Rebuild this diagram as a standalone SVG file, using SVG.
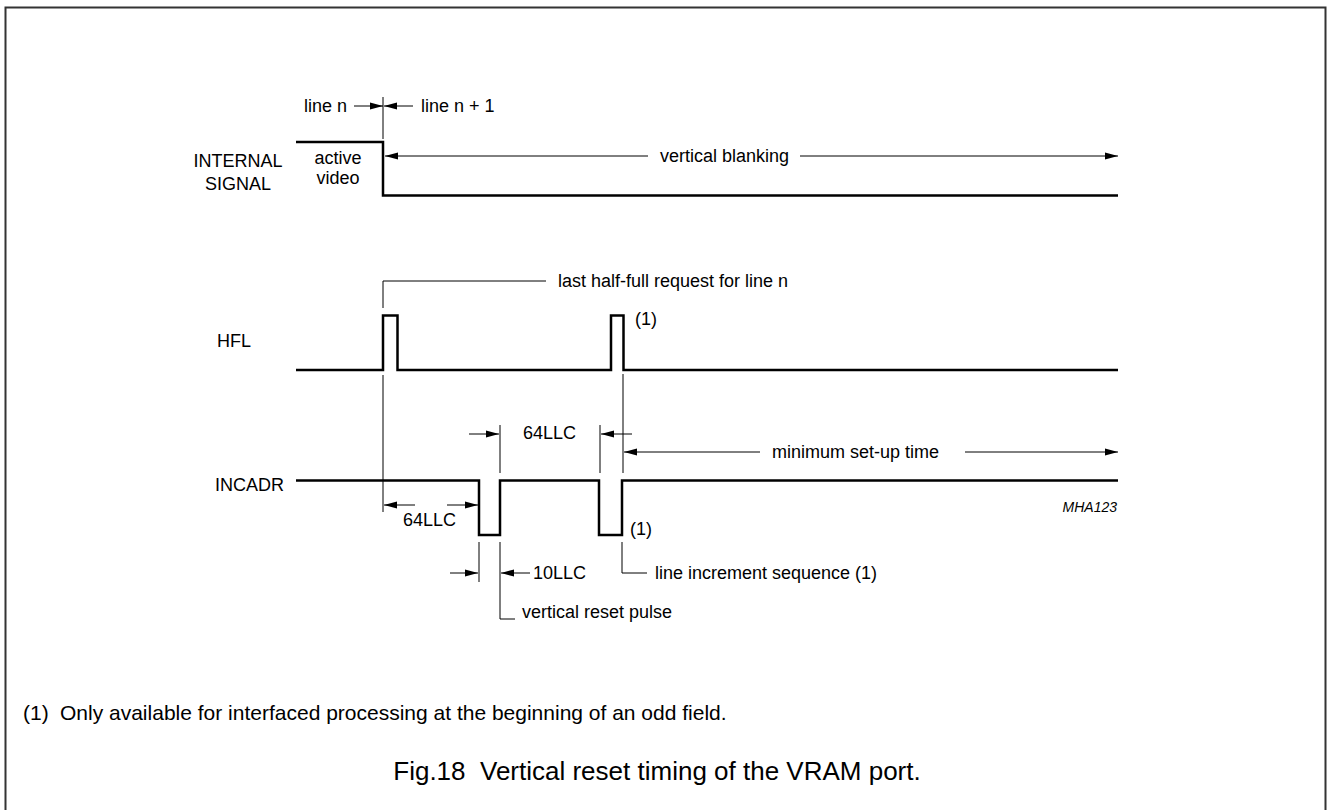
<svg xmlns="http://www.w3.org/2000/svg" width="1327" height="810" viewBox="0 0 1327 810">
<style>
text{font-family:"Liberation Sans",Arial,sans-serif;font-size:18px;fill:#000}
.wave{fill:none;stroke:#000;stroke-width:2.5;stroke-linejoin:miter}
.thin{fill:none;stroke:#000;stroke-width:1}
.arr{fill:none;stroke:#000;stroke-width:1;marker-end:url(#ah)}
.small{font-size:14px;font-style:italic}
.foot{font-size:21px}
.cap{font-size:26px}
</style>
<defs>
<marker id="ah" markerWidth="13" markerHeight="8" refX="13" refY="4" orient="auto" markerUnits="userSpaceOnUse"><path d="M0,0.5 L13,4 L0,7.5 z" fill="#000"/></marker>
</defs>
<rect width="1327" height="810" fill="#fff"/>
<path d="M5.5,830 V7.5 H1325.5 V830" fill="none" stroke="#333" stroke-width="2"/>

<g id="internal-signal">
<text x="238" y="167" text-anchor="middle">INTERNAL</text>
<text x="238" y="190" text-anchor="middle">SIGNAL</text>
<path class="wave" d="M296,142 H383 V195.5 H1118"/>
<text x="338" y="164" text-anchor="middle">active</text>
<text x="338" y="184" text-anchor="middle">video</text>
<text x="660" y="162">vertical blanking</text>
</g>

<g id="hfl">
<text x="217" y="347">HFL</text>
<path class="wave" d="M296,370 H383 V315.5 H397.5 V370 H611 V315.5 H623.5 V370 H1118"/>
<text x="558" y="287">last half-full request for line n</text>
<text x="635" y="325">(1)</text>
</g>

<g id="incadr">
<text x="215" y="491">INCADR</text>
<path class="wave" d="M296,480.5 H479 V535 H500 V480.5 H599 V535 H622 V480.5 H1118"/>
<text x="630" y="535">(1)</text>
<text x="1117" y="512" text-anchor="end" class="small">MHA123</text>
</g>

<g id="labels">
<text x="304" y="112">line n</text>
<text x="421" y="112">line n + 1</text>
<text x="523" y="439">64LLC</text>
<text x="772" y="458">minimum set-up time</text>
<text x="403" y="526">64LLC</text>
<text x="533" y="579">10LLC</text>
<text x="655" y="579">line increment sequence (1)</text>
<text x="522" y="618">vertical reset pulse</text>
</g>

<g id="connectors">
<line class="arr" x1="354" y1="106" x2="383" y2="106"/>
<line class="arr" x1="413" y1="106" x2="384" y2="106"/>
<line class="thin" x1="383" y1="97" x2="383" y2="139"/>
<line class="arr" x1="648" y1="156" x2="385" y2="156"/>
<line class="arr" x1="800" y1="156" x2="1118" y2="156"/>
<polyline class="thin" points="383,308 383,281 546,281"/>
<line class="thin" x1="383" y1="375" x2="383" y2="512"/>
<line class="thin" x1="623" y1="374" x2="623" y2="473"/>
<line class="thin" x1="600" y1="425" x2="600" y2="473"/>
<line class="thin" x1="500" y1="425" x2="500" y2="473"/>
<line class="arr" x1="469" y1="434" x2="499" y2="434"/>
<line class="arr" x1="632" y1="434" x2="601" y2="434"/>
<line class="arr" x1="760" y1="452" x2="624" y2="452"/>
<line class="arr" x1="965" y1="452" x2="1118" y2="452"/>
<line class="arr" x1="415" y1="505" x2="384" y2="505"/>
<line class="arr" x1="447" y1="505" x2="478" y2="505"/>
<line class="thin" x1="479" y1="542" x2="479" y2="582"/>
<polyline class="thin" points="500,542 500,619 515,619"/>
<line class="arr" x1="450" y1="573" x2="478" y2="573"/>
<line class="arr" x1="530" y1="573" x2="501" y2="573"/>
<polyline class="thin" points="622,542 622,573 647,573"/>
</g>

<g id="footnote">
<text x="23" y="720" class="foot">(1)</text>
<text x="60" y="720" class="foot">Only available for interfaced processing at the beginning of an odd field.</text>
<text x="657" y="780" text-anchor="middle" class="cap" xml:space="preserve">Fig.18  Vertical reset timing of the VRAM port.</text>
</g>
</svg>
